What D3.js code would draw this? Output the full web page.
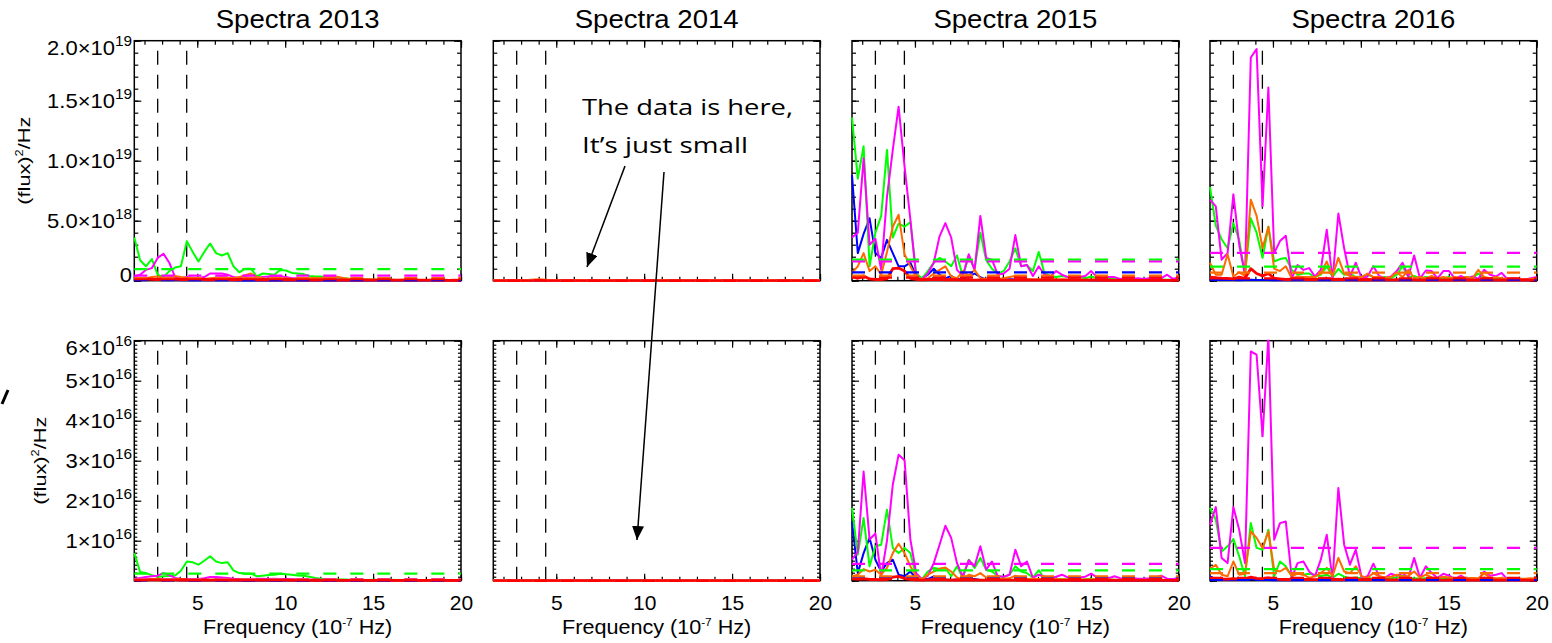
<!DOCTYPE html>
<html>
<head>
<meta charset="utf-8">
<script src="https://cdn.jsdelivr.net/npm/d3@7"></script>
<style>
  body { margin: 0; background: #fff; }
  svg { display: block; font-family: "Liberation Sans", Arial, Helvetica, sans-serif; }
</style>
</head>
<body>
<svg id="chart" width="1552" height="643"></svg>
<script>
const years = ["2013", "2014", "2015", "2016"];
const seriesNames = ["blue", "green", "magenta", "orange", "red"];
const seriesColors = ["#0000ff", "#00ff00", "#ff00ff", "#ff6a00", "#ff0000"];
const markerFreqs = [2.75, 4.4];
const xTicks = [5, 10, 15, 20];
const noteLines = ["The data is here,", "It\u2019s just small"];

// frequency grid, 10^-7 Hz
const freq = [1.42, 1.75, 2.08, 2.42, 2.75, 3.08, 3.41, 3.74, 4.07, 4.41,
  4.74, 5.07, 5.40, 5.73, 6.07, 6.40, 6.73, 7.06, 7.39, 7.72,
  8.06, 8.39, 8.72, 9.05, 9.38, 9.71, 10.05, 10.38, 10.71, 11.04,
  11.37, 11.71, 12.04, 12.37, 12.70, 13.03, 13.36, 13.70, 14.03, 14.36,
  14.69, 15.02, 15.36, 15.69, 16.02, 16.35, 16.68, 17.01, 17.35, 17.68,
  18.01, 18.34, 18.67, 19.00, 19.34, 19.67, 20.00];

// ---- top row, units of 10^18 (flux)^2/Hz ----
const topTicks = [0, 5, 10, 15, 20];
const topTickLabels = [["0", ""], ["5.0\u00d710", "18"], ["1.0\u00d710", "19"], ["1.5\u00d710", "19"], ["2.0\u00d710", "19"]];

const top2013Blue = [0.08,0.06,0.1,0.12,0.15,0.1,0.06,0.05,0.04,0.05,
  0.04,0.03,0.04,0.03,0.03,0.04,0.03,0.03,0.02,0.03,
  0.02,0.03,0.02,0.02,0.03,0.02,0.02,0.02,0.03,0.02,
  0.02,0.02,0.02,0.03,0.02,0.02,0.02,0.02,0.02,0.02,
  0.02,0.02,0.02,0.02,0.02,0.02,0.02,0.02,0.02,0.02,
  0.02,0.02,0.02,0.02,0.02,0.02,0.02];
const top2013Green = [3.6,1.7,1.2,1.8,0.5,0.3,0.8,1.1,1.2,3.3,
  2.4,1.6,2.4,3.1,2.3,2.1,2.3,1.2,0.7,1.0,
  1.0,0.35,0.6,0.55,0.5,0.9,0.85,0.65,0.6,0.55,
  0.4,0.35,0.35,0.3,0.25,0.2,0.2,0.15,0.15,0.1,
  0.1,0.08,0.1,0.06,0.08,0.05,0.06,0.05,0.06,0.05,
  0.04,0.05,0.04,0.05,0.04,0.04,0.05];
const top2013Magenta = [0.35,0.5,0.9,1.05,1.9,2.25,1.5,0.3,0.2,0.3,
  0.25,0.2,0.3,0.6,0.6,0.6,0.5,0.3,0.2,0.3,
  0.2,0.25,0.3,0.35,0.4,0.35,0.3,0.2,0.2,0.15,
  0.15,0.12,0.15,0.1,0.12,0.1,0.1,0.08,0.1,0.08,
  0.08,0.06,0.08,0.06,0.06,0.05,0.06,0.05,0.05,0.05,
  0.04,0.05,0.04,0.04,0.05,0.04,0.04];
const top2013Orange = [0.2,0.15,0.2,0.3,0.35,0.25,0.3,0.4,0.3,0.25,
  0.2,0.2,0.15,0.2,0.25,0.3,0.25,0.2,0.3,0.45,
  0.6,0.3,0.2,0.15,0.2,0.15,0.2,0.15,0.1,0.15,
  0.2,0.25,0.2,0.3,0.4,0.3,0.2,0.15,0.1,0.1,
  0.12,0.1,0.08,0.1,0.08,0.06,0.08,0.06,0.05,0.06,
  0.05,0.05,0.04,0.05,0.04,0.04,0.05];
const top2013Red = [0.12,0.1,0.15,0.12,0.1,0.14,0.12,0.15,0.1,0.12,
  0.1,0.12,0.1,0.08,0.1,0.12,0.1,0.08,0.1,0.12,
  0.1,0.08,0.1,0.08,0.07,0.08,0.1,0.08,0.07,0.06,
  0.07,0.06,0.07,0.08,0.06,0.05,0.06,0.05,0.05,0.06,
  0.05,0.04,0.05,0.04,0.05,0.04,0.04,0.05,0.04,0.04,
  0.04,0.04,0.03,0.04,0.03,0.04,0.03];
const top2013Levels = [0.05, 0.97, 0.42, 0.22, 0.12];

const top2014Blue = [0.02,0.01,0.01,0.02,0.01,0.01,0.01,0.01,0.01,0.01,
  0.01,0.01,0.01,0.01,0.01,0.01,0.01,0.01,0.01,0.01,
  0.01,0.01,0.01,0.01,0.01,0.01,0.01,0.01,0.01,0.01,
  0.01,0.01,0.01,0.01,0.01,0.01,0.01,0.01,0.01,0.01,
  0.01,0.01,0.01,0.01,0.01,0.01,0.01,0.01,0.01,0.01,
  0.01,0.01,0.01,0.01,0.01,0.01,0.01];
const top2014Green = [0.03,0.02,0.02,0.03,0.02,0.02,0.03,0.04,0.05,0.03,
  0.02,0.02,0.02,0.01,0.02,0.01,0.01,0.02,0.01,0.01,
  0.01,0.01,0.01,0.01,0.01,0.01,0.01,0.01,0.01,0.01,
  0.01,0.01,0.01,0.01,0.01,0.01,0.01,0.01,0.01,0.01,
  0.01,0.01,0.01,0.01,0.01,0.01,0.01,0.01,0.01,0.01,
  0.01,0.01,0.01,0.01,0.01,0.01,0.01];
const top2014Magenta = [0.05,0.04,0.03,0.04,0.03,0.02,0.03,0.04,0.06,0.04,
  0.02,0.02,0.02,0.02,0.02,0.02,0.02,0.02,0.02,0.02,
  0.02,0.02,0.02,0.01,0.02,0.01,0.01,0.01,0.01,0.01,
  0.01,0.01,0.01,0.01,0.01,0.01,0.01,0.01,0.01,0.01,
  0.01,0.01,0.01,0.01,0.01,0.01,0.01,0.01,0.01,0.01,
  0.01,0.01,0.01,0.01,0.01,0.01,0.01];
const top2014Orange = [0.02,0.02,0.03,0.02,0.03,0.04,0.06,0.1,0.12,0.08,
  0.03,0.02,0.02,0.02,0.02,0.02,0.02,0.01,0.02,0.01,
  0.01,0.01,0.01,0.01,0.01,0.01,0.01,0.01,0.01,0.01,
  0.01,0.01,0.01,0.01,0.01,0.01,0.01,0.01,0.01,0.01,
  0.01,0.01,0.01,0.01,0.01,0.01,0.01,0.01,0.01,0.01,
  0.01,0.01,0.01,0.01,0.01,0.01,0.01];
const top2014Red = [0.01,0.01,0.01,0.01,0.01,0.01,0.01,0.02,0.02,0.01,
  0.01,0.01,0.01,0.01,0.01,0.01,0.01,0.01,0.01,0.01,
  0.01,0.01,0.01,0.01,0.01,0.01,0.01,0.01,0.01,0.01,
  0.01,0.01,0.01,0.01,0.01,0.01,0.01,0.01,0.01,0.01,
  0.01,0.01,0.01,0.01,0.01,0.01,0.01,0.01,0.01,0.01,
  0.01,0.01,0.01,0.01,0.01,0.01,0.01];
const top2014Levels = [0.01, 0.02, 0.02, 0.02, 0.01];

const top2015Blue = [8.8,2.3,3.9,5.2,2.3,1.9,3.4,2.3,1.2,1.2,
  1.5,0.4,0.2,0.5,1.0,0.5,0.2,0.4,0.1,0.2,
  0.3,0.6,0.3,0.1,0.1,0.15,0.1,0.12,0.1,0.08,
  0.1,0.08,0.06,0.08,0.06,0.05,0.06,0.05,0.05,0.06,
  0.05,0.04,0.05,0.04,0.04,0.05,0.04,0.04,0.04,0.03,
  0.04,0.03,0.03,0.04,0.03,0.03,0.03];
const top2015Green = [13.6,8.5,11.2,1.2,4.0,5.4,10.9,3.6,4.75,4.5,
  4.9,0.6,0.2,0.8,1.5,1.9,1.6,1.2,2.1,0.4,
  2.0,1.0,4.0,1.7,1.0,0.6,0.8,1.6,2.7,1.2,
  1.3,0.8,2.4,0.6,0.4,0.3,0.4,0.3,0.2,0.3,
  0.2,0.35,0.2,0.15,0.2,0.15,0.1,0.15,0.1,0.12,
  0.1,0.1,0.08,0.1,0.08,0.1,0.08];
const top2015Magenta = [3.6,4.0,10.2,3.0,3.5,0.9,7.0,10.9,14.5,9.5,
  5.1,0.3,0.1,0.6,1.5,3.7,4.8,3.6,0.9,0.4,
  2.2,0.9,5.4,1.9,1.75,0.5,0.6,1.0,3.8,1.2,
  1.3,0.4,1.2,0.5,0.35,0.8,0.5,0.3,0.25,0.3,
  0.4,0.8,0.3,0.2,0.3,0.3,0.15,0.2,0.15,0.2,
  0.15,0.2,0.15,0.2,0.5,0.15,0.3];
const top2015Orange = [0.65,1.2,2.3,0.8,1.2,0.5,2.4,4.5,5.5,2.2,
  1.2,0.3,0.1,0.2,0.6,0.9,1.2,0.35,0.2,0.8,
  0.4,0.9,0.2,0.15,0.2,0.15,0.2,0.3,0.4,0.2,
  0.15,0.1,0.12,0.1,0.15,0.1,0.12,0.1,0.08,0.1,
  0.08,0.1,0.08,0.06,0.08,0.06,0.06,0.08,0.06,0.05,
  0.06,0.05,0.05,0.06,0.05,0.05,0.05];
const top2015Red = [0.35,0.2,0.4,0.15,0.1,0.1,0.15,1.0,1.05,0.8,
  0.2,0.1,0.08,0.1,0.12,0.1,0.08,0.1,0.08,0.06,
  0.06,0.05,0.06,0.05,0.05,0.06,0.05,0.05,0.05,0.04,
  0.05,0.04,0.05,0.04,0.04,0.05,0.04,0.04,0.04,0.04,
  0.04,0.04,0.04,0.03,0.04,0.03,0.04,0.03,0.03,0.03,
  0.03,0.03,0.03,0.03,0.03,0.03,0.03];
const top2015Levels = [0.7, 1.75, 1.6, 0.42, 0.25];

const top2016Blue = [0.08,0.06,0.05,0.06,0.05,0.04,0.05,0.08,0.06,0.05,
  0.05,0.04,0.04,0.05,0.04,0.04,0.04,0.04,0.03,0.04,
  0.04,0.03,0.04,0.03,0.03,0.04,0.03,0.03,0.03,0.03,
  0.03,0.03,0.03,0.03,0.03,0.03,0.03,0.03,0.03,0.03,
  0.03,0.03,0.03,0.03,0.03,0.03,0.03,0.03,0.03,0.03,
  0.03,0.03,0.03,0.03,0.03,0.03,0.03];
const top2016Green = [7.8,4.6,3.45,2.7,4.8,3.4,0.5,5.2,4.0,1.9,
  4.5,1.6,1.8,1.9,0.9,0.5,0.6,0.6,0.3,0.5,
  1.2,0.3,1.0,0.5,0.6,0.3,0.35,0.5,0.3,0.2,
  0.3,0.2,0.5,1.2,0.3,0.4,0.2,0.3,0.2,0.25,
  0.2,0.3,0.15,0.2,0.3,0.2,0.6,0.2,0.15,0.2,
  0.15,0.1,0.15,0.1,0.1,0.15,0.1];
const top2016Magenta = [6.75,6.2,1.75,2.3,7.2,3.0,0.5,18.6,19.3,6.2,
  16.1,2.3,3.3,3.75,0.2,1.3,0.9,1.05,0.35,0.9,
  4.25,0.1,5.6,2.7,0.35,1.5,0.2,0.35,1.2,0.4,
  0.2,0.35,0.8,1.5,0.35,2.1,0.2,0.85,0.8,0.2,
  0.8,0.8,0.15,0.4,0.15,0.35,0.15,0.9,0.5,0.35,
  0.65,0.1,0.2,0.15,0.1,0.2,0.3];
const top2016Orange = [1.5,0.5,0.5,2.2,0.35,0.7,0.4,6.75,5.4,2.7,
  4.5,1.0,0.8,1.2,0.2,0.35,0.3,0.3,0.3,0.6,
  1.6,0.4,1.9,0.6,0.4,0.3,0.3,0.6,0.3,0.3,
  0.2,0.3,0.7,0.3,0.9,0.2,0.3,0.2,0.4,0.2,
  0.3,0.2,0.3,0.2,0.3,0.2,0.9,0.3,0.2,0.3,
  0.2,0.15,0.2,0.15,0.1,0.15,0.2];
const top2016Red = [0.3,0.25,0.2,0.2,0.15,0.3,0.2,1.0,0.6,0.4,
  0.6,0.2,0.15,0.1,0.12,0.1,0.12,0.1,0.1,0.12,
  0.15,0.1,0.12,0.1,0.08,0.1,0.08,0.1,0.08,0.08,
  0.08,0.07,0.08,0.07,0.08,0.07,0.06,0.07,0.06,0.07,
  0.06,0.06,0.07,0.06,0.06,0.06,0.07,0.06,0.06,0.06,
  0.06,0.05,0.06,0.05,0.06,0.05,0.05];
const top2016Levels = [0.08, 1.17, 2.32, 0.67, 0.2];

// ---- bottom row, units of 10^15 (flux)^2/Hz ----
const bottomTicks = [0, 10, 20, 30, 40, 50, 60];
const bottomTickLabels = [null, ["1\u00d710", "16"], ["2\u00d710", "16"], ["3\u00d710", "16"], ["4\u00d710", "16"], ["5\u00d710", "16"], ["6\u00d710", "16"]];

const bot2013Blue = [0.3,0.2,0.25,0.3,0.35,0.25,0.2,0.15,0.12,0.12,
  0.1,0.1,0.1,0.09,0.1,0.09,0.08,0.09,0.08,0.08,
  0.08,0.07,0.08,0.07,0.07,0.07,0.06,0.07,0.06,0.06,
  0.06,0.06,0.06,0.05,0.06,0.05,0.05,0.05,0.05,0.05,
  0.05,0.05,0.05,0.05,0.05,0.05,0.05,0.05,0.05,0.05,
  0.05,0.05,0.05,0.05,0.05,0.05,0.05];
const bot2013Green = [6.9,2.2,1.9,1.4,1.0,1.1,1.2,1.3,2.5,4.8,
  4.6,4.0,5.0,6.1,4.8,4.4,4.6,2.6,1.9,1.8,
  1.75,1.1,1.25,1.4,1.5,1.75,1.6,1.5,1.3,1.25,
  1.0,0.7,0.5,0.4,0.35,0.3,0.3,0.25,0.3,0.25,
  0.2,0.25,0.2,0.2,0.25,0.2,0.15,0.2,0.15,0.2,
  0.15,0.15,0.2,0.15,0.15,0.2,0.15];
const bot2013Magenta = [0.4,0.7,0.9,1.1,1.25,1.9,1.4,0.7,0.4,0.4,
  0.35,0.4,0.6,0.9,0.9,0.8,0.7,0.5,0.4,0.35,
  0.4,0.5,0.5,0.45,0.5,0.45,0.4,0.35,0.3,0.3,
  0.25,0.3,0.25,0.2,0.25,0.2,0.2,0.15,0.2,0.15,
  0.15,0.15,0.12,0.15,0.12,0.1,0.12,0.1,0.1,0.12,
  0.1,0.1,0.08,0.1,0.08,0.08,0.1];
const bot2013Orange = [0.3,0.25,0.3,0.4,0.5,0.4,0.35,0.45,0.4,0.3,
  0.3,0.25,0.2,0.25,0.3,0.35,0.3,0.25,0.3,0.4,
  0.45,0.3,0.25,0.2,0.25,0.2,0.25,0.2,0.15,0.2,
  0.2,0.25,0.2,0.25,0.3,0.25,0.2,0.15,0.15,0.12,
  0.12,0.1,0.1,0.12,0.1,0.08,0.1,0.08,0.08,0.1,
  0.08,0.08,0.07,0.08,0.07,0.07,0.08];
const bot2013Red = [0.2,0.18,0.2,0.22,0.2,0.18,0.2,0.22,0.18,0.2,
  0.18,0.16,0.18,0.16,0.15,0.16,0.15,0.14,0.15,0.14,
  0.13,0.14,0.13,0.12,0.13,0.12,0.12,0.11,0.12,0.11,
  0.1,0.11,0.1,0.1,0.1,0.09,0.1,0.09,0.09,0.09,
  0.08,0.09,0.08,0.08,0.08,0.08,0.08,0.08,0.08,0.08,
  0.08,0.08,0.08,0.08,0.08,0.08,0.08];
const bot2013Levels = [0.1, 1.75, 0.42, 0.25, 0.15];

const bot2014Blue = top2014Blue.slice();
const bot2014Green = [0.04,0.03,0.03,0.04,0.03,0.03,0.04,0.05,0.06,0.04,
  0.03,0.03,0.02,0.02,0.02,0.02,0.02,0.02,0.02,0.02,
  0.02,0.02,0.02,0.02,0.02,0.02,0.02,0.02,0.02,0.02,
  0.02,0.02,0.02,0.02,0.02,0.02,0.02,0.02,0.02,0.02,
  0.02,0.02,0.02,0.02,0.02,0.02,0.02,0.02,0.02,0.02,
  0.02,0.02,0.02,0.02,0.02,0.02,0.02];
const bot2014Magenta = top2014Magenta.slice();
const bot2014Orange = top2014Orange.slice();
const bot2014Red = top2014Red.slice();
const bot2014Levels = [0.02, 0.03, 0.03, 0.02, 0.02];

const bot2015Blue = [14.8,1.9,6.9,10.7,5.25,2.3,4.4,5.25,1.5,1.1,
  2.3,0.5,0.3,0.4,1.1,0.5,0.3,0.2,0.3,0.2,
  0.3,0.4,0.2,0.2,0.15,0.2,0.15,0.2,0.15,0.15,
  0.12,0.1,0.12,0.1,0.1,0.12,0.1,0.1,0.08,0.1,
  0.08,0.1,0.08,0.08,0.07,0.08,0.07,0.07,0.08,0.07,
  0.07,0.06,0.07,0.06,0.06,0.07,0.06];
const bot2015Green = [18.2,6.5,15.7,3.6,8.6,9.0,17.75,8.2,6.9,8.2,
  6.9,1.1,0.4,2.3,3.2,2.9,3.2,1.1,3.6,0.7,
  5.25,3.2,5.7,2.75,2.3,1.2,0.9,1.5,3.6,2.3,
  1.9,0.8,2.6,0.5,0.4,0.5,0.4,0.3,0.4,0.3,
  0.35,0.5,0.3,0.25,0.3,0.25,0.2,0.3,0.2,0.25,
  0.2,0.2,0.25,0.2,0.2,0.2,0.25];
const bot2015Magenta = [5.3,7.2,27.3,10.3,11.8,1.1,10,24,31.5,30.1,
  10.3,1.9,0.4,1.2,4.4,9,13.75,10.7,4.4,1.1,
  5.1,3.6,8.6,2.75,4.8,1.1,1.0,1.5,7.75,3.6,
  4.8,0.7,1.5,1.0,0.7,1.0,1.5,0.8,0.6,0.8,
  1.0,1.75,0.8,0.5,0.6,1.1,0.6,0.5,0.7,0.5,
  0.5,0.6,0.8,1.25,0.5,0.4,0.6];
const bot2015Orange = [1.1,1.5,2.9,2.3,2.75,1.5,3.2,6.9,9.25,6.9,
  3.6,1.1,0.3,1.5,2.3,3.0,3.3,2.3,0.8,0.4,
  1.5,1.1,1.9,0.8,0.5,0.4,0.5,0.6,1.25,0.6,
  0.4,0.5,0.45,0.4,0.35,0.4,0.35,0.3,0.35,0.3,
  0.3,0.35,0.3,0.25,0.3,0.25,0.25,0.3,0.25,0.2,
  0.25,0.2,0.2,0.25,0.2,0.2,0.2];
const bot2015Red = [0.5,0.4,0.5,0.3,0.3,0.2,0.3,0.9,1.1,0.6,
  0.3,0.2,0.15,0.2,0.25,0.2,0.2,0.15,0.2,0.15,
  0.15,0.2,0.15,0.12,0.15,0.12,0.12,0.15,0.12,0.1,
  0.12,0.1,0.1,0.12,0.1,0.1,0.1,0.1,0.08,0.1,
  0.08,0.08,0.1,0.08,0.08,0.08,0.07,0.08,0.07,0.07,
  0.07,0.07,0.06,0.07,0.06,0.06,0.06];
const bot2015Levels = [0.8, 2.6, 4.2, 1.1, 0.4];

const bot2016Blue = [1.1,0.3,0.2,0.2,0.15,0.2,0.15,0.4,0.2,0.15,
  0.15,0.12,0.12,0.1,0.12,0.1,0.1,0.1,0.1,0.1,
  0.1,0.1,0.1,0.1,0.1,0.1,0.1,0.1,0.1,0.1,
  0.1,0.1,0.1,0.1,0.1,0.1,0.1,0.1,0.1,0.1,
  0.1,0.1,0.1,0.1,0.1,0.1,0.1,0.1,0.1,0.1,
  0.1,0.1,0.1,0.1,0.1,0.1,0.1];
const bot2016Green = [18.2,15.25,7.3,8.6,10.4,6.1,1.1,14.4,8.2,7.75,
  12.75,1.1,4.8,3.6,1.1,1.9,1.5,1.75,1.5,1.1,
  1.5,0.7,1.75,1.0,0.6,0.8,0.6,0.7,0.5,0.6,
  0.5,0.6,0.8,1.2,0.5,0.6,0.5,0.6,0.4,0.5,
  0.4,0.5,0.4,0.4,0.5,0.4,0.3,0.6,0.4,0.3,
  0.4,0.3,0.3,0.4,0.3,0.3,0.3];
const bot2016Magenta = [14,18.4,5.7,4.4,18.4,12.75,4.4,57.3,56.5,36.1,
  61,10.25,14.4,14.8,0.7,4.4,4.8,2.3,1.1,5.25,
  11.5,0.25,23.2,9.0,4.0,7.75,0.7,1.1,4.25,1.1,
  0.7,1.75,1.25,1.9,0.7,5.7,0.7,3.6,1.9,0.7,
  1.75,1.25,0.4,1.25,0.4,0.7,0.25,2.3,1.25,1.5,
  1.9,0.25,0.7,0.4,0.25,0.4,0.4];
const bot2016Orange = [3.0,4.0,1.5,1.1,4.8,1.5,1.75,12.3,10.7,8.2,
  12.3,2.75,2.3,3.2,1.25,1.75,1.5,0.7,1.1,1.9,
  3.2,1.1,5.7,2.3,1.9,3.6,1.1,0.7,1.9,1.1,
  0.8,1.0,1.5,1.0,1.2,2.3,0.8,1.5,0.8,0.7,
  1.0,0.8,0.6,0.8,0.6,0.7,0.6,1.75,0.8,0.6,
  0.7,0.5,0.6,0.5,0.5,0.6,0.5];
const bot2016Red = [0.6,0.5,0.4,0.4,0.5,0.4,0.4,0.9,0.6,0.5,
  0.7,0.4,0.35,0.3,0.3,0.35,0.3,0.3,0.25,0.3,
  0.35,0.3,0.3,0.25,0.3,0.25,0.25,0.3,0.25,0.2,
  0.25,0.2,0.2,0.25,0.2,0.2,0.2,0.2,0.15,0.2,
  0.15,0.2,0.15,0.15,0.2,0.15,0.15,0.15,0.12,0.15,
  0.12,0.12,0.15,0.12,0.12,0.12,0.1];
const bot2016Levels = [0.2, 2.9, 8.2, 1.9, 0.7];

// ---- tables built from the arrays above ----
const rowsData = [
  {
    yMax: 20, ticks: topTicks, tickLabels: topTickLabels, minorLen: 4,
    series: {
      "2013": [top2013Blue, top2013Green, top2013Magenta, top2013Orange, top2013Red],
      "2014": [top2014Blue, top2014Green, top2014Magenta, top2014Orange, top2014Red],
      "2015": [top2015Blue, top2015Green, top2015Magenta, top2015Orange, top2015Red],
      "2016": [top2016Blue, top2016Green, top2016Magenta, top2016Orange, top2016Red]
    },
    levels: { "2013": top2013Levels, "2014": top2014Levels, "2015": top2015Levels, "2016": top2016Levels }
  },
  {
    yMax: 60, ticks: bottomTicks, tickLabels: bottomTickLabels, minorLen: 3,
    series: {
      "2013": [bot2013Blue, bot2013Green, bot2013Magenta, bot2013Orange, bot2013Red],
      "2014": [bot2014Blue, bot2014Green, bot2014Magenta, bot2014Orange, bot2014Red],
      "2015": [bot2015Blue, bot2015Green, bot2015Magenta, bot2015Orange, bot2015Red],
      "2016": [bot2016Blue, bot2016Green, bot2016Magenta, bot2016Orange, bot2016Red]
    },
    levels: { "2013": bot2013Levels, "2014": bot2014Levels, "2015": bot2015Levels, "2016": bot2016Levels }
  }
];

// ---- layout ----
const svg = d3.select("#chart");
const plotLeft = [134.3, 493.3, 852, 1210];
const rowTop = [40.7, 340.7];
const plotW = 326.7;
const plotH = 240;

const defs = svg.append("defs");
defs.append("marker")
  .attr("id", "arrowhead")
  .attr("markerUnits", "userSpaceOnUse")
  .attr("viewBox", "0 0 14 12")
  .attr("refX", 14)
  .attr("refY", 6)
  .attr("markerWidth", 14)
  .attr("markerHeight", 12)
  .attr("orient", "auto")
  .append("path")
  .attr("d", "M0,0 L14,6 L0,12 Z")
  .attr("fill", "#000");

function supText(sel, base, exp, supSize, rise) {
  sel.text("");
  sel.append("tspan").text(base);
  if (exp) sel.append("tspan").attr("dy", -rise).attr("font-size", supSize).text(exp);
}

rowsData.forEach(function (row, r) {
  years.forEach(function (year, p) {
    var g = svg.append("g")
      .attr("transform", "translate(" + plotLeft[p] + "," + rowTop[r] + ")");

    var x = d3.scaleLinear().domain([freq[0], freq[freq.length - 1]]).range([0, plotW]);
    var y = d3.scaleLinear().domain([0, row.yMax]).range([plotH, 0]);

    // frame first, data drawn over it
    g.append("rect")
      .attr("width", plotW)
      .attr("height", plotH)
      .attr("fill", "none")
      .attr("stroke", "#000")
      .attr("stroke-width", 1.5);

    // axes, ticks pointing inward on all four sides
    var yMinor = d3.range(0, row.yMax + 0.001, 1);
    var xMinor = d3.range(2, 21, 1);

    var axes = [
      g.append("g").attr("transform", "translate(0," + plotH + ")")
        .call(d3.axisBottom(x).tickValues(xMinor).tickSize(-4).tickFormat("")),
      g.append("g").call(d3.axisTop(x).tickValues(xMinor).tickSize(-4).tickFormat("")),
      g.append("g").call(d3.axisTop(x).tickValues(xTicks).tickSize(-7).tickFormat("")),
      g.append("g").call(d3.axisLeft(y).tickValues(yMinor).tickSize(-row.minorLen).tickFormat("")),
      g.append("g").attr("transform", "translate(" + plotW + ",0)")
        .call(d3.axisRight(y).tickValues(yMinor).tickSize(-row.minorLen).tickFormat("")),
      g.append("g").attr("transform", "translate(" + plotW + ",0)")
        .call(d3.axisRight(y).tickValues(row.ticks).tickSize(-7).tickFormat(""))
    ];

    var xAxisMajor = g.append("g").attr("transform", "translate(0," + plotH + ")")
      .call(d3.axisBottom(x).tickValues(xTicks).tickSize(-7).tickPadding(14)
        .tickFormat(r === 1 ? d3.format("d") : ""));
    axes.push(xAxisMajor);

    var yAxisMajor = g.append("g")
      .call(d3.axisLeft(y).tickValues(row.ticks).tickSize(-7).tickPadding(2)
        .tickFormat(function () { return ""; }));
    axes.push(yAxisMajor);

    axes.forEach(function (a) {
      a.select(".domain").remove();
      a.selectAll(".tick line").attr("stroke", "#000").attr("stroke-width", 1.2);
      a.selectAll("text").attr("font-size", 21).attr("fill", "#000")
        .attr("font-family", "'Liberation Sans', Arial, sans-serif");
    });

    if (p === 0) {
      yAxisMajor.selectAll(".tick text").each(function (d, i) {
        var lab = row.tickLabels[i];
        var t = d3.select(this);
        if (!lab) { t.text(""); return; }
        t.attr("font-size", 20).attr("transform", "scale(1.1,1)");
        supText(t, lab[0], lab[1], 14, 9);
        if (d === 0) t.attr("y", -6);
        if (d === row.yMax) t.attr("y", 7);
      });
    }

    var clipId = "clip-" + r + "-" + p;
    defs.append("clipPath").attr("id", clipId)
      .append("rect").attr("x", -1).attr("y", -1).attr("width", plotW + 2).attr("height", plotH + 3);

    var plot = g.append("g").attr("clip-path", "url(#" + clipId + ")");

    // vertical marker lines
    plot.selectAll(".marker")
      .data(markerFreqs)
      .enter()
      .append("line")
      .attr("x1", function (d) { return x(d); })
      .attr("x2", function (d) { return x(d); })
      .attr("y1", 0)
      .attr("y2", plotH)
      .attr("stroke", "#000")
      .attr("stroke-width", 1.3)
      .attr("stroke-dasharray", "14,10")
      .attr("stroke-dashoffset", 14);

    var line = d3.line()
      .x(function (d, i) { return x(freq[i]); })
      .y(function (d) { return y(d); });

    row.series[year].forEach(function (values, si) {
      plot.append("path")
        .datum(values)
        .attr("d", line)
        .attr("fill", "none")
        .attr("stroke", seriesColors[si])
        .attr("stroke-width", si === 4 ? 2.8 : 2)
        .attr("stroke-linejoin", "round");
    });

    row.levels[year].forEach(function (lv, si) {
      plot.append("line")
        .attr("x1", 0)
        .attr("x2", plotW)
        .attr("y1", y(lv))
        .attr("y2", y(lv))
        .attr("stroke", seriesColors[si])
        .attr("stroke-width", 2.2)
        .attr("stroke-dasharray", "13,14");
    });

    if (r === 0) {
      g.append("text")
        .attr("transform", "translate(" + plotW / 2 + ",-13) scale(1.06,1)")
        .attr("text-anchor", "middle")
        .attr("font-size", 26)
        .text("Spectra " + year);
    }

    if (r === 1) {
      var xt = g.append("text")
        .attr("transform", "translate(" + plotW / 2 + "," + (plotH + 53) + ") scale(1.08,1)")
        .attr("text-anchor", "middle")
        .attr("font-size", 20);
      xt.append("tspan").text("Frequency (10");
      xt.append("tspan").attr("dy", -8).attr("font-size", 11).text("-7");
      xt.append("tspan").attr("dy", 8).text(" Hz)");
    }

    if (p === 0) {
      var yt = g.append("text")
        .attr("transform", "translate(" + (r === 0 ? -104 : -88) + "," + plotH / 2 + ") rotate(-90) scale(1.28,1)")
        .attr("text-anchor", "middle")
        .attr("font-size", 17);
      yt.append("tspan").text("(flux)");
      yt.append("tspan").attr("dy", -7).attr("font-size", 10).text("2");
      yt.append("tspan").attr("dy", 7).text("/Hz");
    }
  });
});

// annotation on the 2014 panels
var note = svg.append("g")
  .attr("font-family", "'Open Sans', 'Noto Sans', sans-serif")
  .attr("font-size", 22)
  .attr("fill", "#000");
note.append("text").attr("x", 582).attr("y", 115)
  .attr("textLength", 211).attr("lengthAdjust", "spacingAndGlyphs").text(noteLines[0]);
note.append("text").attr("x", 582).attr("y", 153)
  .attr("textLength", 166).attr("lengthAdjust", "spacingAndGlyphs").text(noteLines[1]);

svg.append("line")
  .attr("x1", 625).attr("y1", 166).attr("x2", 587).attr("y2", 267)
  .attr("stroke", "#000").attr("stroke-width", 1.5)
  .attr("marker-end", "url(#arrowhead)");
svg.append("line")
  .attr("x1", 664).attr("y1", 172).attr("x2", 637).attr("y2", 540)
  .attr("stroke", "#000").attr("stroke-width", 1.5)
  .attr("marker-end", "url(#arrowhead)");

// stray stroke at the left edge
svg.append("line")
  .attr("x1", 8).attr("y1", 390).attr("x2", 2).attr("y2", 404)
  .attr("stroke", "#000").attr("stroke-width", 3);
</script>
</body>
</html>
